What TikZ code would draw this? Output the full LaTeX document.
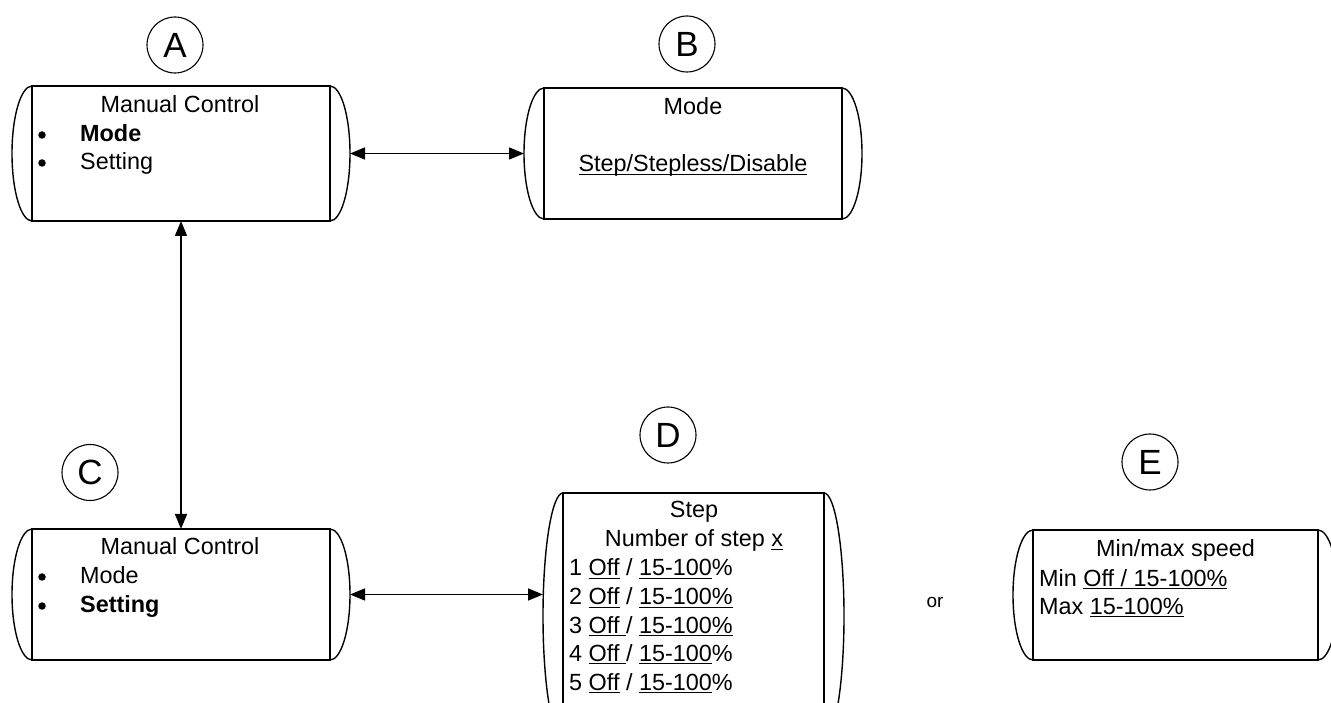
\documentclass[tikz,border=0pt]{standalone}
\usepackage{fontspec}
\setmainfont{Liberation Sans}
\usetikzlibrary{calc,arrows.meta}
\newcommand\ul[1]{\sbox0{#1}\rlap{\rule[-3.4pt]{\wd0}{1.3pt}}\usebox0}
\tikzset{
  screen/.style={draw, line width=1.4pt, inner sep=0pt, outer sep=0pt, shape=rectangle},
  bulge/.style={draw, line width=1.4pt},
  badge/.style={draw, circle, line width=1.1pt, minimum size=56pt, inner sep=0pt, font=\fontsize{35}{35}\selectfont},
  txt/.style={inner sep=0pt, anchor=base, font=\fontsize{23.4}{28}\selectfont},
  ltxt/.style={txt, anchor=base west},
  dot/.style={circle, fill, inner sep=0pt, minimum size=7.5pt},
  ortxt/.style={inner sep=0pt, anchor=base, font=\fontsize{19}{22}\selectfont},
  arr/.style={line width=1.5pt, {Triangle[length=15pt,width=12pt]}-{Triangle[length=15pt,width=12pt]}}
}
\newcommand\bulges[1]{%
  \path[bulge] let \p1=($(#1.north west)-(#1.south west)$) in
    (#1.north west) arc[start angle=90,end angle=270,x radius=20pt,y radius=0.5*\y1]
    (#1.south east) arc[start angle=-90,end angle=90,x radius=20pt,y radius=0.5*\y1];
  \coordinate (#1-l) at ($(#1.west)+(-20,0)$);
  \coordinate (#1-r) at ($(#1.east)+(20,0)$);
}
\begin{document}
\begin{tikzpicture}[x=1pt,y=1pt]
\useasboundingbox (0,0) rectangle (1331,702);
\clip (0,0) rectangle (1331,702);
% boxes
\node[screen, minimum width=298pt, minimum height=135pt] (A) at (181,548.5) {};
\node[screen, minimum width=298pt, minimum height=131pt] (B) at (693,548.5) {};
\node[screen, minimum width=298pt, minimum height=131pt] (C) at (181,107.5) {};
\node[screen, minimum width=261pt, minimum height=246pt] (D) at (693.5,86) {};
\node[screen, minimum width=285pt, minimum height=130pt] (E) at (1175.5,107) {};
\bulges{A}\bulges{B}\bulges{C}\bulges{D}\bulges{E}
% badges
\node[badge] (cA) at (175,657) {A};
\node[badge] (cB) at (687,658) {B};
\node[badge] (cC) at (90,229.5) {C};
\node[badge] (cD) at (668,267) {D};
\node[badge] (cE) at (1150,240) {E};
% texts A
\node[txt] (a1) at (180,589) {Manual Control};
\node[dot] (ab1) at (42,567) {};
\node[ltxt] (a2) at (80,560) {\textbf{Mode}};
\node[dot] (ab2) at (42,539) {};
\node[ltxt] (a3) at (80,532) {Setting};
% texts B
\node[txt] (b1) at (693,587) {Mode};
\node[txt] (b2) at (693,530) {\ul{Step/Stepless/Disable}};
% texts C
\node[txt] (c1) at (180,147) {Manual Control};
\node[dot] (cb1) at (42,125) {};
\node[ltxt] (c2) at (80,118) {Mode};
\node[dot] (cb2) at (42,96) {};
\node[ltxt] (c3) at (80,89) {\textbf{Setting}};
% texts D
\node[txt] (d1) at (694,184) {Step};
\node[txt] (d2) at (694,155) {Number of step \ul{x}};
\node[ltxt] (d3) at (569,126) {1 \ul{Off} / \ul{15-100}\%};
\node[ltxt] (d4) at (569,97.5) {2 \ul{Off} / \ul{15-100\%}};
\node[ltxt] (d5) at (569,69) {3 \ul{Off }/ \ul{15-100\%}};
\node[ltxt] (d6) at (569,41) {4 \ul{Off }/ \ul{15-100}\%};
\node[ltxt] (d7) at (569,12) {5 \ul{Off} / \ul{15-100}\%};
% texts E
\node[txt] (e1) at (1175.5,145) {Min/max speed};
\node[ltxt] (e2) at (1039,116) {Min \ul{Off / 15-100\%}};
\node[ltxt] (e3) at (1039,88) {Max \ul{15-100\%}};
% or
\node[ortxt] (or) at (935,95) {or};
% connectors
\draw[arr] (A-r) -- (B-l);
\draw[arr] (A.south) -- (C.north);
\draw[arr] (C-r) -- (C-r -| D-l);
\end{tikzpicture}
\end{document}
